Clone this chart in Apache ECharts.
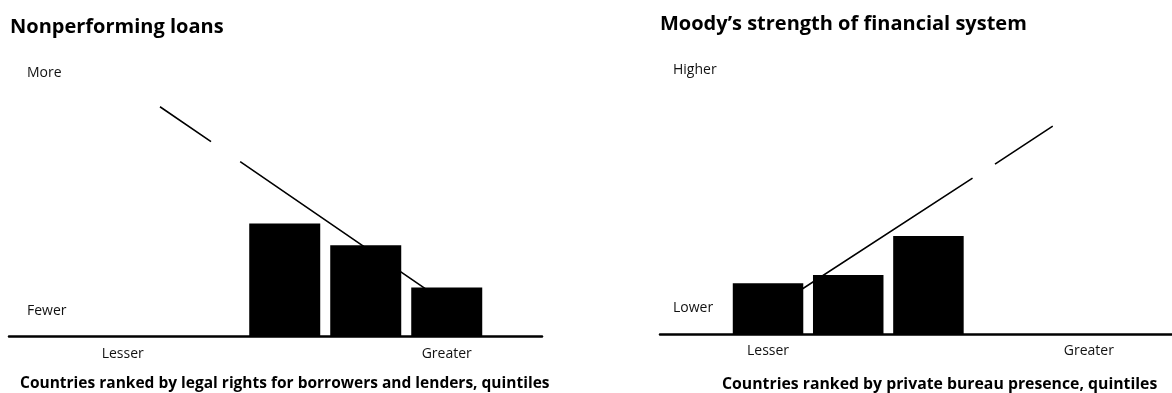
<!DOCTYPE html>
<html>
<head>
<meta charset="utf-8">
<script src="https://cdn.jsdelivr.net/npm/echarts@6/dist/echarts.min.js"></script>
<style>
  html, body { margin: 0; padding: 0; background: #fff; }
  #chart { width: 1172px; height: 393px; }
</style>
</head>
<body>
<div id="chart"></div>
<script>
// ---- data ----
const quintiles = [1, 2, 3, 4, 5];
const xTickLabels = ['Lesser', 'Greater'];
const xTickPositions = [1, 5];

// Panel 1: Nonperforming loans (relative index, 0 = baseline)
const loansTitle = 'Nonperforming loans';
const loansCaption = 'Countries ranked by legal rights for borrowers and lenders, quintiles';
const loansYLabels = ['Fewer', 'More'];
const loansYLabelValues = [9.3, 97.5];
const loansBars = [null, null, 41.7, 33.6, 18.0];
const loansTrend = [[1.46, 84.9], [2.09, 72.0], null, [2.45, 64.6], [5, 12.1]];

// Panel 2: Moody's strength of financial system
const moodyTitle = 'Moody\u2019s strength of financial system';
const moodyCaption = 'Countries ranked by private bureau presence, quintiles';
const moodyYLabels = ['Lower', 'Higher'];
const moodyYLabelValues = [9.8, 98.0];
const moodyBars = [19.0, 22.0, 36.5, null, null];
const moodyTrend = [[1, 8.6], [3.55, 57.9], null, [3.83, 63.1], [4.55, 77.2]];

// ---- chart ----
const FONT = 'Open Sans';
const chart = echarts.init(document.getElementById('chart'), null, { renderer: 'canvas' });

function barData(vals) {
  return vals.map((v, i) => [quintiles[i], v == null ? '-' : v]);
}
function lineData(pts) {
  return pts.map(p => p ? p : ['-', '-']);
}
function xAxis(gridIndex, min, max, margin) {
  return {
    type: 'value', gridIndex, min, max,
    axisLine: { show: true, onZero: false, lineStyle: { color: '#000', width: 2.5 } },
    axisTick: { show: false },
    splitLine: { show: false },
    axisLabel: {
      customValues: xTickPositions,
      formatter: v => xTickLabels[xTickPositions.indexOf(v)] || '',
      color: '#111', fontFamily: FONT, fontSize: 14, margin
    }
  };
}
function yAxis(gridIndex, labels, values, margin) {
  return {
    type: 'value', gridIndex, min: 0, max: 100,
    axisLine: { show: false }, axisTick: { show: false }, splitLine: { show: false },
    axisLabel: {
      inside: true, align: 'left', margin,
      customValues: values,
      formatter: v => labels[values.indexOf(v)] || '',
      color: '#111', fontFamily: FONT, fontSize: 14
    }
  };
}

chart.setOption({
  backgroundColor: '#fff',
  animation: false,
  title: [
    { text: loansTitle, left: 5, top: 12, textStyle: { fontFamily: FONT, fontWeight: 'bold', fontSize: 20, color: '#000' } },
    { text: moodyTitle, left: 655, top: 9, textStyle: { fontFamily: FONT, fontWeight: 'bold', fontSize: 20, color: '#000' } },
    { text: loansCaption, left: 15, top: 371, textStyle: { fontFamily: FONT, fontWeight: 'bold', fontSize: 15.5, color: '#000' } },
    { text: moodyCaption, left: 717, top: 371, textStyle: { fontFamily: FONT, fontWeight: 'bold', fontSize: 15.8, color: '#000' } }
  ],
  grid: [
    { left: 9, width: 533, top: 66, height: 270 },
    { left: 660, width: 512, top: 64.5, height: 270 }
  ],
  xAxis: [xAxis(0, -0.404, 6.176, 11), xAxis(1, -0.347, 6.037, 10)],
  yAxis: [yAxis(0, loansYLabels, loansYLabelValues, 18), yAxis(1, moodyYLabels, moodyYLabelValues, 13)],
  series: [
    { type: 'line', xAxisIndex: 0, yAxisIndex: 0, data: lineData(loansTrend), symbol: 'none',
      connectNulls: false, lineStyle: { color: '#000', width: 1.6 }, z: 1 },
    { type: 'bar', xAxisIndex: 0, yAxisIndex: 0, data: barData(loansBars), barWidth: 71,
      itemStyle: { color: '#000' }, z: 2 },
    { type: 'line', xAxisIndex: 1, yAxisIndex: 1, data: lineData(moodyTrend), symbol: 'none',
      connectNulls: false, lineStyle: { color: '#000', width: 1.6 }, z: 1 },
    { type: 'bar', xAxisIndex: 1, yAxisIndex: 1, data: barData(moodyBars), barWidth: 70.5,
      itemStyle: { color: '#000' }, z: 2 }
  ]
});
</script>
</body>
</html>
